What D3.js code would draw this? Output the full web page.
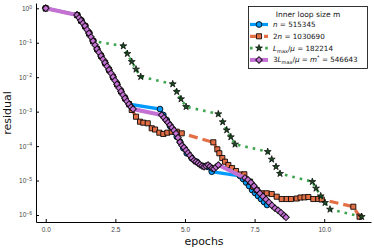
<!DOCTYPE html>
<html lang="en">
<head>
<meta charset="UTF-8">
<title>residual vs epochs</title>
<style>
  body { margin: 0; background: #fff; }
  svg { display: block; font-family: "DejaVu Sans", sans-serif; }
  .tick text { fill: #444; font-size: 6.5px; }
  .tick line, .domain { stroke: #000; }
</style>
</head>
<body>
<svg id="chart" width="374" height="249"></svg>
<script src="https://cdn.jsdelivr.net/npm/d3@7"></script>
<script>
// ticks
const xTicks = [0, 2.5, 5, 7.5, 10];
const yTicks = [1, 1e-1, 1e-2, 1e-3, 1e-4, 1e-5, 1e-6];
const yTickExp = ['0', '\u22121', '\u22122', '\u22123', '\u22124', '\u22125', '\u22126'];

// m = n
const epochsN = [0, 1.124, 1.267, 1.411, 1.555, 1.698, 1.842, 1.986, 2.129, 2.273, 2.417, 2.560, 2.704, 2.847, 2.991,
  4.104, 4.223, 4.345, 4.463, 4.582, 4.704, 4.822, 4.941, 5.063, 5.242, 5.422, 5.659, 5.838, 5.961,
  6.977, 7.085, 7.193, 7.301, 7.408, 7.516, 7.624, 7.731, 7.839, 7.947];
const residN = [1, 0.639, 0.442, 0.306, 0.188, 0.1124, 0.0658, 0.0415, 0.0262, 0.0164, 0.0102, 0.00622, 0.00387, 0.00244, 0.00165,
  1.19e-3, 8.0e-4, 5.72e-4, 3.83e-4, 2.62e-4, 1.87e-4, 1.34e-4, 8.63e-5, 6.18e-5, 4.42e-5, 3.52e-5, 2.64e-5, 2.47e-5, 1.81e-5,
  1.36e-5, 1.11e-5, 8.78e-6, 6.95e-6, 5.32e-6, 4.35e-6, 3.56e-6, 2.91e-6, 2.38e-6, 1.95e-6];

// m = 2n
const epochs2N = [0, 1.124, 1.267, 1.411, 1.555, 1.698, 1.842, 1.986, 2.129, 2.273, 2.417, 2.560, 2.704, 2.847, 2.991,
  3.088, 3.242, 3.386, 3.504, 3.662, 3.806, 3.925, 4.079, 4.223, 4.366, 4.524, 4.704, 4.883,
  6.018, 6.162, 6.233, 6.341, 6.438, 6.557, 6.690, 6.833, 6.977, 7.131, 7.336, 7.454, 7.576, 7.756, 7.935,
  8.115, 8.294, 8.474, 8.654, 8.808, 9.013, 9.149, 9.293, 9.429, 9.609, 9.788, 9.910,
  11.045, 11.268];
const resid2N = [1, 0.639, 0.442, 0.306, 0.188, 0.1124, 0.0658, 0.0415, 0.0262, 0.0164, 0.0102, 0.00622, 0.00387, 0.00244, 0.00165,
  1.12e-3, 7.13e-4, 5.11e-4, 4.78e-4, 4.59e-4, 3.29e-4, 3.03e-4, 2.45e-4, 2.25e-4, 2.45e-4, 2.62e-4, 2.62e-4, 2.35e-4,
  1.29e-4, 8.07e-5, 6.18e-5, 4.51e-5, 3.52e-5, 2.83e-5, 2.31e-5, 1.89e-5, 1.50e-5, 1.52e-5, 9.26e-6, 6.63e-6, 5.32e-6, 4.27e-6, 4.27e-6,
  4.07e-6, 3.40e-6, 2.91e-6, 2.91e-6, 2.91e-6, 3.01e-6, 3.22e-6, 3.26e-6, 3.33e-6, 2.91e-6, 2.91e-6, 2.82e-6,
  1.74e-6, 8.93e-7];

// m = Lmax/mu
const epochsL = [0, 1.124, 1.267, 1.411, 1.555, 1.698, 2.786, 2.930, 3.088, 3.242, 3.411,
  4.560, 4.704, 4.858, 5.038, 6.197, 6.355, 6.499, 6.646, 6.797,
  7.971, 8.115, 8.269, 8.413, 9.573, 9.706, 9.874, 10.029, 10.208, 11.346];
const residL = [1, 0.639, 0.442, 0.306, 0.188, 0.1124, 0.0805, 0.0481, 0.0282, 0.0170, 0.01034,
  6.35e-3, 3.79e-3, 2.33e-3, 1.39e-3, 8.55e-4, 5.01e-4, 2.93e-4, 1.84e-4, 1.13e-4,
  6.88e-5, 4.14e-5, 2.52e-5, 1.59e-5, 9.26e-6, 5.96e-6, 3.56e-6, 2.28e-6, 1.46e-6, 8.93e-7];

// m = 3Lmax/mu = m*
const epochs3L = [0, 1.124, 1.196, 1.267, 1.339, 1.411, 1.483, 1.555, 1.627, 1.698, 1.770, 1.842, 1.914, 1.986, 2.057,
  2.129, 2.201, 2.273, 2.345, 2.417, 2.488, 2.560, 2.632, 2.704, 2.776, 2.847, 2.919, 2.991, 3.063, 3.135,
  4.165, 4.248, 4.320, 4.391, 4.463, 4.535, 4.607, 4.679, 4.750, 4.822, 4.894, 4.966, 5.038, 5.109, 5.181,
  5.253, 5.325, 5.397, 5.469, 5.540, 5.612, 5.684, 5.756, 5.828, 5.899, 5.971, 6.043, 6.115, 6.198,
  7.155, 7.263, 7.370, 7.478, 7.586, 7.694, 7.801, 7.909, 8.017, 8.124, 8.232, 8.340, 8.447, 8.555, 8.627];
const resid3L = [1, 0.639, 0.530, 0.442, 0.367, 0.306, 0.239, 0.188, 0.147, 0.1124, 0.0860, 0.0658, 0.0525, 0.0415, 0.0331,
  0.0262, 0.0207, 0.0164, 0.0130, 0.0102, 0.00796, 0.00622, 0.00486, 0.00387, 0.00306, 0.00244, 0.00198, 0.00165, 0.00136, 0.00119,
  8.0e-4, 6.68e-4, 5.65e-4, 4.81e-4, 4.10e-4, 3.42e-4, 2.86e-4, 2.31e-4, 1.76e-4, 1.29e-4, 1.04e-4, 9.04e-5, 7.55e-5, 6.35e-5, 5.30e-5,
  4.42e-5, 3.79e-5, 3.50e-5, 3.21e-5, 2.90e-5, 2.64e-5, 2.52e-5, 2.66e-5, 2.81e-5, 2.56e-5, 2.27e-5, 2.19e-5, 2.46e-5, 2.83e-5,
  1.19e-5, 1.05e-5, 8.72e-6, 6.90e-6, 5.32e-6, 4.24e-6, 3.47e-6, 2.84e-6, 2.32e-6, 1.90e-6, 1.57e-6, 1.37e-6, 1.17e-6, 9.73e-7, 8.57e-7];

const legendTitle = 'Inner loop size m';
// label pieces: [text, style]  ('' normal, 'i' italic, 'sub', 'sup')
const labelN = [['n', 'i'], [' = 515345', '']];
const label2N = [['2', ''], ['n', 'i'], [' = 1030690', '']];
const labelL = [['L', 'i'], ['max', 'sub'], ['/', ''], ['\u03bc', 'i'], [' = 182214', '']];
const label3L = [['3', ''], ['L', 'i'], ['max', 'sub'], ['/', ''], ['\u03bc', 'i'], [' = ', ''], ['m', 'i'], ['*', 'sup'], [' = 546643', '']];

const series = [
  { x: epochsN, y: residN, label: labelN, color: '#009afa', dash: null, width: 3.2, marker: 'circle' },
  { x: epochs2N, y: resid2N, label: label2N, color: '#e36f47', dash: '9,5', width: 3.2, marker: 'square' },
  { x: epochsL, y: residL, label: labelL, color: '#3ea44e', dash: '2.6,5', width: 2.6, marker: 'star' },
  { x: epochs3L, y: resid3L, label: label3L, color: '#c371d2', dash: null, width: 4, marker: 'diamond' }
];

const svg = d3.select('#chart');
const x = d3.scaleLinear().domain([-0.35, 11.68]).range([36, 371]);
const y = d3.scaleLog().domain([Math.pow(10, -6.203), Math.pow(10, 0.154)]).range([222, 3]);

function symbolPath(kind) {
  if (kind === 'circle') return d3.symbol(d3.symbolCircle, 26)();
  if (kind === 'square') return d3.symbol(d3.symbolSquare, 26)();
  if (kind === 'star') return d3.symbol(d3.symbolStar, 15)();
  return d3.symbol(d3.symbolSquare, 22)();
}

function drawMarker(g, kind, color) {
  g.append('path')
    .attr('d', symbolPath(kind))
    .attr('transform', kind === 'diamond' ? 'rotate(45)' : null)
    .attr('fill', kind === 'star' ? '#1d4a24' : color)
    .attr('stroke', '#000')
    .attr('stroke-opacity', 0.85)
    .attr('stroke-width', kind === 'star' ? 0.8 : 1);
}

// axes
const xAxis = d3.axisBottom(x).tickValues(xTicks).tickFormat(d3.format('.1f')).tickSize(-3).tickSizeOuter(0).tickPadding(5);
svg.append('g').attr('transform', 'translate(0,222)').call(xAxis);

const yAxis = d3.axisLeft(y).tickValues(yTicks).tickSize(-3).tickSizeOuter(0).tickPadding(4).tickFormat(() => '');
const gy = svg.append('g').attr('transform', 'translate(36,0)').call(yAxis);
gy.selectAll('.tick text').each(function (d, i) {
  const t = d3.select(this).attr('dy', '0.3em');
  t.append('tspan').text('10');
  t.append('tspan').attr('dy', '-0.45em').attr('font-size', '5px').text(yTickExp[i]);
});

// series lines and markers
const line = d3.line().x(d => x(d[0])).y(d => y(d[1]));
series.forEach(s => {
  const pts = s.x.map((e, i) => [e, s.y[i]]);
  svg.append('path')
    .datum(pts)
    .attr('d', line)
    .attr('fill', 'none')
    .attr('stroke', s.color)
    .attr('stroke-width', s.width)
    .attr('stroke-dasharray', s.dash);
  svg.append('g').selectAll('g')
    .data(pts)
    .join('g')
    .attr('transform', d => `translate(${x(d[0])},${y(d[1])})`)
    .each(function () { drawMarker(d3.select(this), s.marker, s.color); });
});

// axis labels
svg.append('text').attr('x', 204).attr('y', 245).attr('text-anchor', 'middle')
  .attr('font-size', '11px').attr('fill', '#111').text('epochs');
svg.append('text').attr('transform', 'translate(11,113) rotate(-90)').attr('text-anchor', 'middle')
  .attr('font-size', '11px').attr('fill', '#111').text('residual');

// legend
const lg = svg.append('g');
lg.append('rect').attr('x', 248.5).attr('y', 6.5).attr('width', 119).attr('height', 62)
  .attr('fill', '#fff').attr('stroke', '#000').attr('stroke-width', 0.8);
lg.append('text').attr('x', 308).attr('y', 17).attr('text-anchor', 'middle')
  .attr('font-size', '7.5px').attr('fill', '#111').text(legendTitle);

series.forEach((s, i) => {
  const cy = 24.5 + i * 11.8;
  lg.append('line').attr('x1', 250).attr('x2', 268).attr('y1', cy).attr('y2', cy)
    .attr('stroke', s.color).attr('stroke-width', s.width)
    .attr('stroke-dasharray', s.dash);
  drawMarker(lg.append('g').attr('transform', `translate(259,${cy})`), s.marker, s.color);
  const t = lg.append('text').attr('x', 273).attr('y', cy + 2.5).attr('font-size', '7.2px').attr('fill', '#111');
  let shift = 0;
  s.label.forEach(([txt, st]) => {
    const sp = t.append('tspan').text(txt);
    let target = 0;
    if (st === 'i') sp.attr('font-style', 'italic');
    if (st === 'sub') { target = 2; sp.attr('font-size', '5px'); }
    if (st === 'sup') { target = -3; sp.attr('font-size', '5px'); }
    sp.attr('dy', target - shift);
    shift = target;
  });
});
</script>
</body>
</html>
